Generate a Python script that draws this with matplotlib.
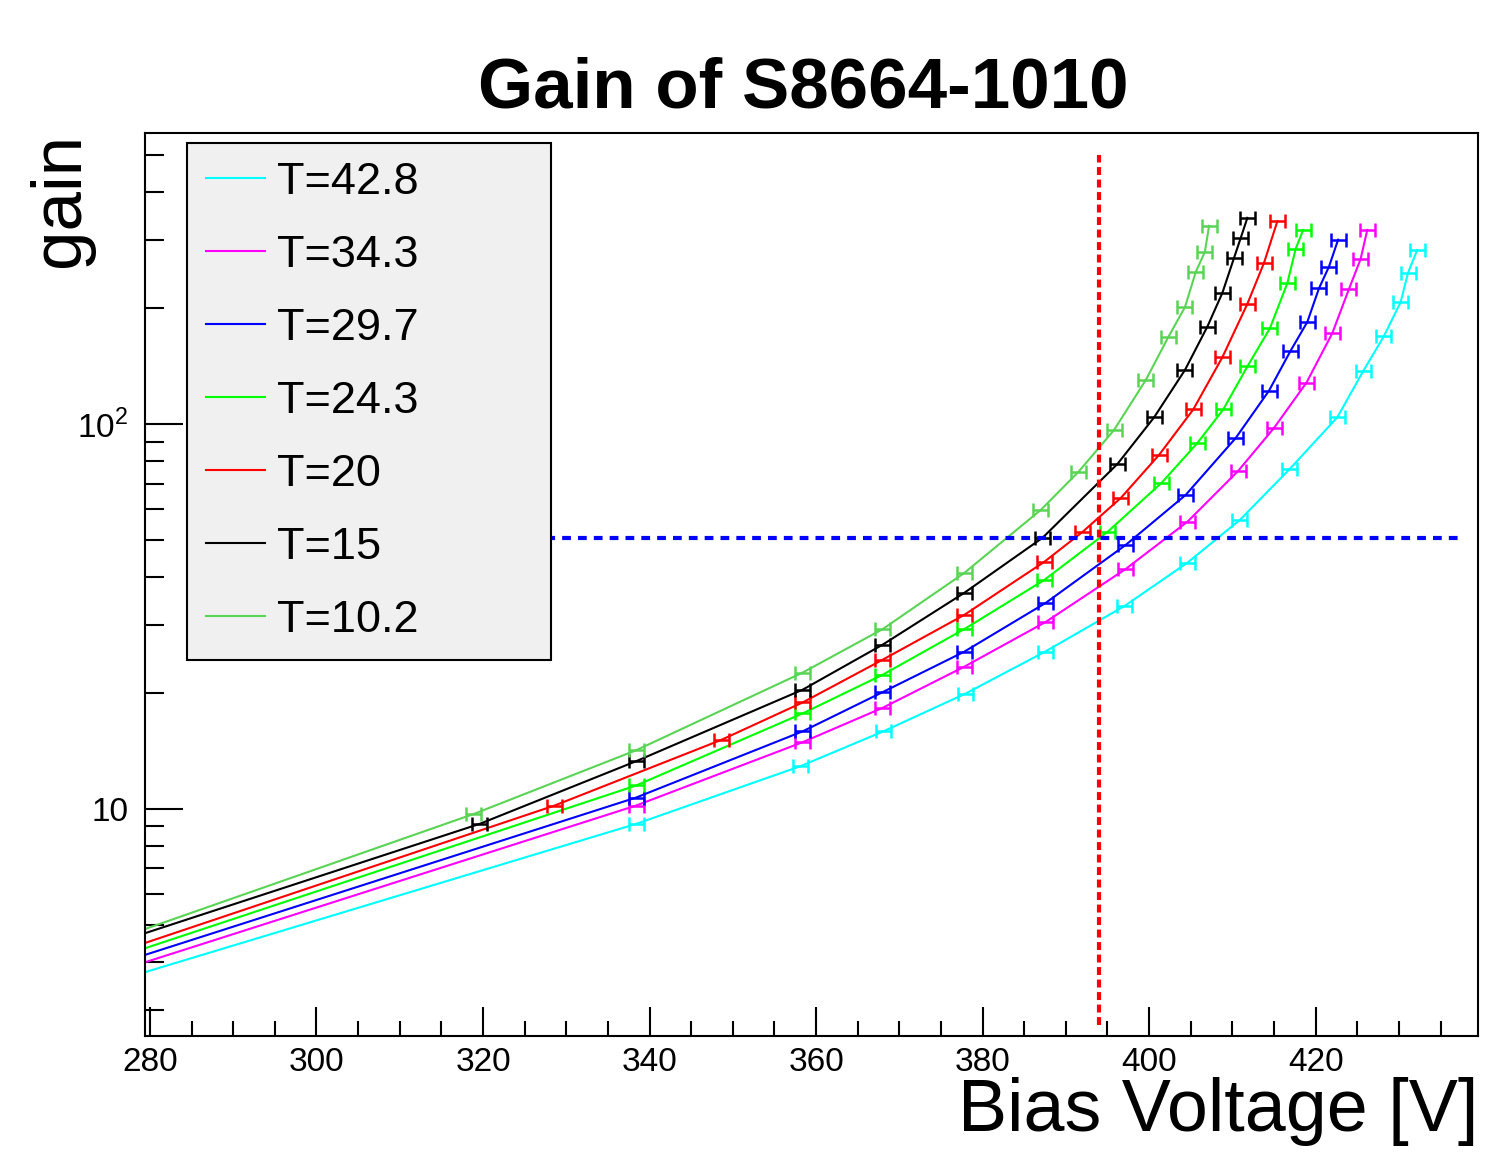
import numpy as np
import matplotlib.pyplot as plt
from matplotlib.ticker import FixedLocator, MultipleLocator, LogLocator, NullFormatter

plt.rcParams['font.family'] = ['Liberation Sans', 'DejaVu Sans']
plt.rcParams['mathtext.fontset'] = 'custom'
plt.rcParams['mathtext.rm'] = 'Liberation Sans'

# temperatures (legend order) and colours
labels = ["T=42.8", "T=34.3", "T=29.7", "T=24.3", "T=20", "T=15", "T=10.2"]
colors = ["#00ffff", "#ff00ff", "#0000ff", "#00ff00", "#ff0000", "#000000", "#59d454"]

# bias voltage [V] and gain
v_42_8 = [279.5, 338.4, 358.1, 368.1, 377.9, 387.5, 397.1, 404.6, 410.9, 416.9, 422.6, 425.7, 428.2, 430.2, 431.1, 432.2]
g_42_8 = [3.77, 9.14, 12.9, 15.9, 19.9, 25.6, 33.7, 43.6, 56.3, 76.4, 104, 137, 169, 207, 247, 283]

v_34_3 = [279.5, 338.4, 358.4, 368.0, 377.8, 387.6, 397.2, 404.6, 410.7, 415.0, 418.9, 422.0, 424.0, 425.4, 426.2]
g_34_3 = [4.0, 10.2, 14.9, 18.3, 23.4, 30.6, 42.0, 55.7, 75.5, 97.6, 128, 172, 224, 268, 319]

v_29_7 = [279.5, 338.4, 358.4, 368.0, 377.8, 387.6, 397.2, 404.4, 410.4, 414.4, 417.0, 419.0, 420.4, 421.6, 422.7]
g_29_7 = [4.18, 10.7, 15.9, 20.1, 25.6, 34.3, 48.5, 65.4, 91.9, 122, 155, 184, 225, 256, 301]

v_24_3 = [279.5, 338.4, 358.4, 368.0, 377.8, 387.4, 395.0, 401.5, 405.8, 408.9, 411.8, 414.5, 416.6, 417.6, 418.5]
g_24_3 = [4.35, 11.5, 17.7, 22.3, 29.3, 39.3, 52.4, 70.3, 89.2, 109, 141, 177, 232, 285, 319]

v_20 = [279.5, 328.6, 348.6, 358.4, 368.0, 377.8, 387.4, 392.0, 396.6, 401.2, 405.3, 408.8, 411.8, 413.8, 415.4]
g_20 = [4.49, 10.2, 15.1, 18.9, 24.4, 31.9, 43.8, 52.4, 64.2, 83.1, 109, 149, 205, 262, 336]

v_15 = [279.5, 319.6, 338.4, 358.4, 368.0, 377.8, 387.2, 396.2, 400.6, 404.3, 407.0, 408.8, 410.2, 411.0, 411.8]
g_15 = [4.76, 9.14, 13.3, 20.4, 26.7, 36.4, 50.6, 78.7, 104, 138, 179, 219, 270, 304, 343]

v_10_2 = [279.5, 318.9, 338.4, 358.4, 368.0, 377.8, 387.0, 391.5, 395.8, 399.6, 402.3, 404.3, 405.6, 406.7, 407.2]
g_10_2 = [4.88, 9.7, 14.2, 22.6, 29.3, 41.0, 59.8, 75.0, 96.5, 130, 168, 201, 248, 280, 327]

volts = [v_42_8, v_34_3, v_29_7, v_24_3, v_20, v_15, v_10_2]
gains = [g_42_8, g_34_3, g_29_7, g_24_3, g_20, g_15, g_10_2]
v_err = 0.9

# reference lines
v_op = 394.0
v_op_range = [2.75, 500]
g_op = 50.5
g_op_range = [320, 437.6]

fig = plt.figure(figsize=(14.99, 11.66), dpi=100)
ax = fig.add_axes([0.0967, 0.1115, 0.8893, 0.7745])

for v, g, c, lab in zip(volts, gains, colors, labels):
    ax.plot(v, g, color=c, lw=1.5, label=lab)
    ax.errorbar(v[1:], g[1:], xerr=v_err, fmt='none', ecolor=c,
                elinewidth=1.8, capsize=5, capthick=1.8)

ax.plot([v_op, v_op], v_op_range, color='#ff0000', lw=3, dashes=(1.9, 1.1))
ax.plot(g_op_range, [g_op, g_op], color='#0000ff', lw=3, dashes=(2.1, 1.7))

ax.set_yscale('log')
ax.set_xlim(279.4, 439.5)
ax.set_ylim(2.57, 570)

ax.xaxis.set_major_locator(MultipleLocator(20))
ax.xaxis.set_minor_locator(MultipleLocator(5))
ax.yaxis.set_major_locator(FixedLocator([10, 100]))
ax.yaxis.set_major_formatter(plt.FixedFormatter(["10", "$10^{2}$"]))
ax.yaxis.set_minor_locator(LogLocator(base=10, subs=np.arange(2, 10)))
ax.yaxis.set_minor_formatter(NullFormatter())

ax.tick_params(axis='both', which='both', direction='in', width=1.5, labelsize=24)
ax.tick_params(axis='x', which='major', length=21, pad=8)
ax.tick_params(axis='x', which='minor', length=11)
ax.tick_params(axis='y', which='major', length=27, pad=12)
ax.tick_params(axis='y', which='minor', length=14)
for s in ax.spines.values():
    s.set_linewidth(1.5)

ax.set_xlabel("Bias Voltage [V]", fontsize=53, loc='right')
ax.xaxis.set_label_coords(1.0, -0.045)
ax.set_ylabel("gain", fontsize=51, loc='top')
ax.yaxis.set_label_coords(-0.038, 1.0)

fig.text(0.536, 1 - 107 / 1166, "Gain of S8664-1010", fontsize=51,
         fontweight='bold', ha='center', va='baseline')

leg = ax.legend(loc='upper left', bbox_to_anchor=(0.0315, 0.424, 0.2731, 0.565),
                mode='expand', fontsize=32.5, frameon=True, fancybox=False,
                facecolor='#f0f0f0', edgecolor='black', framealpha=1,
                handlelength=1.3, handletextpad=0.28, borderpad=0.42,
                labelspacing=0.71, borderaxespad=0)
leg.get_frame().set_linewidth(1.5)

fig.savefig("out.png", dpi=100)
